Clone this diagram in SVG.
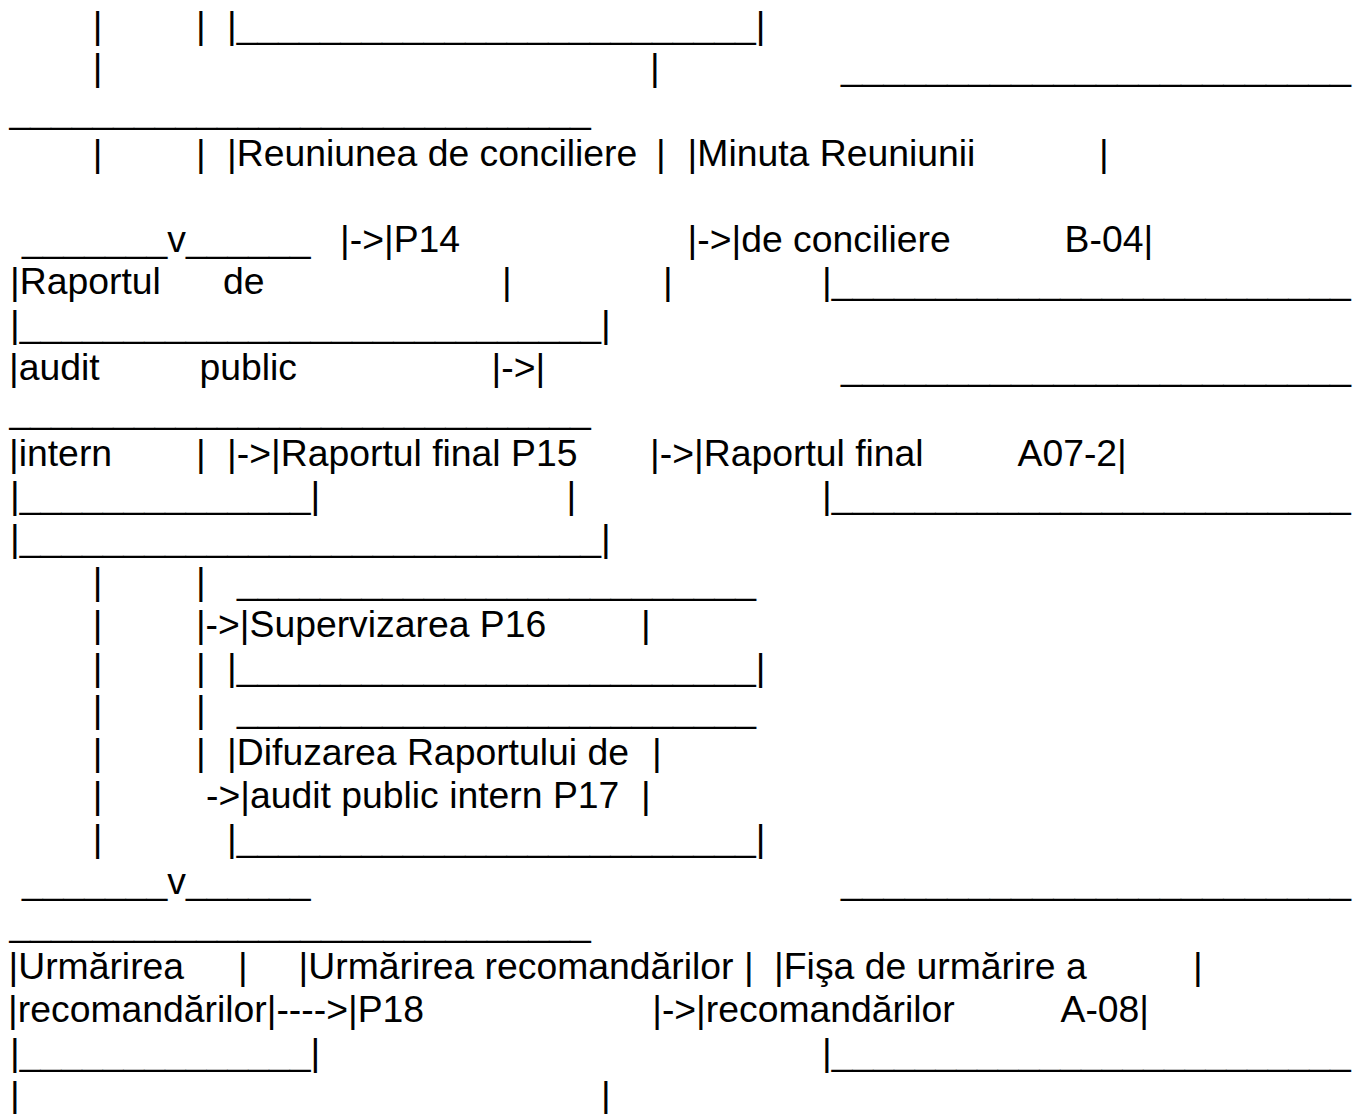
<svg xmlns="http://www.w3.org/2000/svg" width="1353" height="1114" viewBox="0 0 1353 1114">
<style>
text { font-family: "Liberation Sans", Arial, sans-serif; font-size: 37.33px; fill: #000; }
</style>
<rect width="1353" height="1114" fill="#fff"/>
<g id="row-a">
<text x="92.7" y="37.5">|</text>
<text x="195.9" y="37.5">|</text>
<text x="227.1" y="37.5">|_________________________|</text>
</g>
<g id="row-b">
<text x="92.7" y="80.3">|</text>
<text x="650.1" y="80.3">|</text>
<text x="841" y="80.3" textLength="510" lengthAdjust="spacingAndGlyphs">________________________</text>
</g>
<g id="row-c">
<text x="9.5" y="123.1">____________________________</text>
</g>
<g id="row-d">
<text x="92.7" y="165.9">|</text>
<text x="195.9" y="165.9">|</text>
<text x="227.1" y="165.9">|Reuniunea de conciliere</text>
<text x="656.1" y="165.9">|</text>
<text x="687.6" y="165.9">|Minuta Reuniunii</text>
<text x="1099" y="165.9">|</text>
</g>
<g id="row-e">
<text x="22" y="251.5">_______v______</text>
<text x="340.1" y="251.5">|-&gt;|P14</text>
<text x="687.6" y="251.5">|-&gt;|de conciliere</text>
<text x="1064.6" y="251.5">B-04|</text>
</g>
<g id="row-f">
<text x="10.1" y="294.3">|Raportul</text>
<text x="223" y="294.3">de</text>
<text x="502.1" y="294.3">|</text>
<text x="663.1" y="294.3">|</text>
<text x="822.1" y="294.3">|_________________________</text>
</g>
<g id="row-g">
<text x="10.1" y="337.1">|____________________________|</text>
</g>
<g id="row-h">
<text x="9" y="379.9">|audit</text>
<text x="199.5" y="379.9">public</text>
<text x="491.6" y="379.9">|-&gt;|</text>
<text x="841" y="379.9" textLength="510" lengthAdjust="spacingAndGlyphs">________________________</text>
</g>
<g id="row-i">
<text x="9.5" y="422.7">____________________________</text>
</g>
<g id="row-j">
<text x="9" y="465.5">|intern</text>
<text x="195.9" y="465.5">|</text>
<text x="227.1" y="465.5">|-&gt;|Raportul final P15</text>
<text x="650.1" y="465.5">|-&gt;|Raportul final</text>
<text x="1017.5" y="465.5">A07-2|</text>
</g>
<g id="row-k">
<text x="10.1" y="508.3">|______________|</text>
<text x="566.6" y="508.3">|</text>
<text x="822.1" y="508.3">|_________________________</text>
</g>
<g id="row-l">
<text x="10.1" y="551.1">|____________________________|</text>
</g>
<g id="row-m">
<text x="92.7" y="593.9">|</text>
<text x="195.9" y="593.9">|</text>
<text x="237" y="593.9">_________________________</text>
</g>
<g id="row-n">
<text x="92.7" y="636.7">|</text>
<text x="195.9" y="636.7">|-&gt;|Supervizarea P16</text>
<text x="641.1" y="636.7">|</text>
</g>
<g id="row-o">
<text x="92.7" y="679.5">|</text>
<text x="195.9" y="679.5">|</text>
<text x="227.1" y="679.5">|_________________________|</text>
</g>
<g id="row-p">
<text x="92.7" y="722.3">|</text>
<text x="195.9" y="722.3">|</text>
<text x="237" y="722.3">_________________________</text>
</g>
<g id="row-q">
<text x="92.7" y="765.1">|</text>
<text x="195.9" y="765.1">|</text>
<text x="227.1" y="765.1">|Difuzarea Raportului de</text>
<text x="652.1" y="765.1">|</text>
</g>
<g id="row-r">
<text x="92.7" y="807.9">|</text>
<text x="206" y="807.9">-&gt;|audit public intern P17</text>
<text x="641.1" y="807.9">|</text>
</g>
<g id="row-s">
<text x="92.7" y="850.7">|</text>
<text x="227.1" y="850.7">|_________________________|</text>
</g>
<g id="row-t">
<text x="22" y="893.5">_______v______</text>
<text x="841" y="893.5" textLength="510" lengthAdjust="spacingAndGlyphs">________________________</text>
</g>
<g id="row-u">
<text x="9.5" y="936.3">____________________________</text>
</g>
<g id="row-v">
<text x="8.5" y="979.1">|Urmărirea</text>
<text x="238.1" y="979.1">|</text>
<text x="298.6" y="979.1">|Urmărirea recomandărilor</text>
<text x="744.1" y="979.1">|</text>
<text x="774.1" y="979.1">|Fişa de urmărire a</text>
<text x="1193.1" y="979.1">|</text>
</g>
<g id="row-w">
<text x="8.1" y="1021.9">|recomandărilor|----&gt;|P18</text>
<text x="652.2" y="1021.9">|-&gt;|recomandărilor</text>
<text x="1060.5" y="1021.9">A-08|</text>
</g>
<g id="row-x">
<text x="10.1" y="1064.7">|______________|</text>
<text x="822.1" y="1064.7">|_________________________</text>
</g>
<g id="row-y">
<text x="10.1" y="1107.5">|</text>
<text x="601.1" y="1107.5">|</text>
</g>
</svg>
